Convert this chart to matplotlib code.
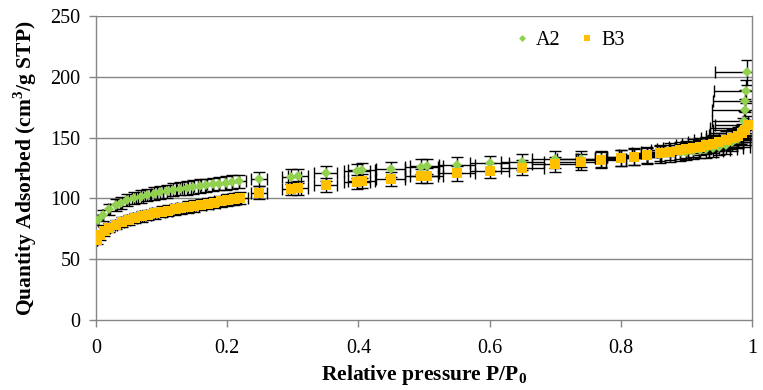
import numpy as np
import matplotlib
matplotlib.use("Agg")
import matplotlib.pyplot as plt

# isotherm data
a2_x = [0.003, 0.010, 0.020, 0.030, 0.038, 0.048, 0.058, 0.068, 0.078, 0.088,
        0.098, 0.108, 0.118, 0.128, 0.138, 0.148, 0.158, 0.168, 0.178, 0.188,
        0.198, 0.208, 0.218,
        0.248, 0.298, 0.308, 0.350, 0.398, 0.405, 0.449, 0.496, 0.504, 0.550,
        0.600, 0.650, 0.700, 0.740, 0.770, 0.800,
        0.820, 0.840, 0.860, 0.875, 0.890, 0.900, 0.910, 0.920, 0.930, 0.940,
        0.950, 0.960, 0.970, 0.978, 0.983, 0.986, 0.988, 0.989, 0.990, 0.991,
        0.993]
a2_y = [82.0, 86.0, 91.0, 94.5, 96.5, 98.5, 100.0, 101.5, 102.8, 104.0,
        105.0, 106.0, 107.0, 107.8, 108.6, 109.4, 110.1, 110.8, 111.5, 112.1,
        112.7, 113.3, 113.9,
        116.0, 118.0, 118.5, 120.6, 122.5, 123.0, 124.0, 126.0, 126.3, 127.5,
        128.8, 130.2, 132.0, 132.4, 132.5, 133.3,
        134.0, 135.0, 136.2, 137.0, 137.8, 138.4, 139.1, 139.8, 140.6, 141.5,
        142.6, 144.0, 146.0, 148.5, 152.0, 158.0, 164.0, 172.7, 180.0, 188.0,
        203.7]

b3_x = [0.002, 0.006, 0.012, 0.020, 0.030, 0.040, 0.050, 0.060, 0.070, 0.080,
        0.090, 0.100, 0.110, 0.120, 0.130, 0.140, 0.150, 0.160, 0.170, 0.180,
        0.190, 0.200, 0.210, 0.220,
        0.248, 0.298, 0.308, 0.350, 0.398, 0.405, 0.449, 0.496, 0.504, 0.550,
        0.600, 0.650, 0.700, 0.740, 0.770, 0.800,
        0.820, 0.840, 0.860, 0.875, 0.890, 0.900, 0.910, 0.920, 0.930, 0.940,
        0.950, 0.960, 0.970, 0.978, 0.985, 0.990, 0.994]
b3_y = [66.0, 69.5, 73.0, 76.0, 78.5, 80.5, 82.2, 83.8, 85.2, 86.5,
        87.7, 88.9, 90.0, 91.0, 92.0, 93.0, 93.9, 94.8, 95.7, 96.6,
        97.5, 98.4, 99.3, 100.2,
        104.7, 108.0, 108.5, 111.0, 113.5, 114.0, 116.0, 118.4, 118.8, 120.6,
        122.8, 125.3, 128.0, 129.7, 131.6, 133.0,
        134.4, 135.7, 137.3, 138.4, 139.6, 140.5, 141.5, 142.5, 143.6, 144.8,
        146.2, 147.8, 149.7, 151.5, 153.8, 156.5, 160.0]

err_pct = 0.05  # 5 % error bars in both directions

plt.rcParams['font.family'] = ['Liberation Serif', 'DejaVu Serif']

fig = plt.figure(figsize=(7.63, 3.90), dpi=100)
ax = fig.add_axes([0.1258, 0.1795, 0.8598, 0.7795])

grey = '#868686'
for ys in range(50, 251, 50):
    ax.axhline(ys, color=grey, lw=1.0, zorder=0)

series = [(a2_x, a2_y, '#92D050', 'D', 5.5, 'A2'),
          (b3_x, b3_y, '#FFC000', 's', 6.5, 'B3')]
for xs, ys, col, mk, ms, lab in series:
    xs = np.array(xs)
    ys = np.array(ys)
    ax.errorbar(xs, ys, xerr=err_pct * xs, yerr=err_pct * ys, fmt='none',
                ecolor='black', elinewidth=1.0, capsize=4, capthick=1.0,
                zorder=2)
for xs, ys, col, mk, ms, lab in series:
    ax.plot(xs, ys, linestyle='none', marker=mk, color=col, ms=ms,
            markeredgewidth=0, label=lab, zorder=3)

ax.set_xlim(0, 1)
ax.set_ylim(0, 250)
ax.set_xticks([0, 0.2, 0.4, 0.6, 0.8, 1])
ax.set_xticklabels(['0', '0.2', '0.4', '0.6', '0.8', '1'])
ax.set_yticks(range(0, 251, 50))

ax.spines['top'].set_visible(False)
for s in ['left', 'bottom', 'right']:
    ax.spines[s].set_color(grey)
    ax.spines[s].set_linewidth(1.0)
ax.tick_params(axis='both', colors=grey, labelcolor='black', labelsize=14.5,
               length=5, width=1.0, direction='out')
ax.tick_params(axis='x', pad=9)
ax.tick_params(axis='y', pad=6)

ax.set_xlabel('Relative pressure P/P$_\\mathregular{0}$', fontsize=15.5,
              fontweight='bold', labelpad=3)
ax.set_ylabel('Quantity Adsorbed (cm$^\\mathregular{3}$/g STP)', fontsize=15.5,
              fontweight='bold', labelpad=8)

ax.legend(loc='center left', bbox_to_anchor=(0.628, 0.918), ncol=2,
          frameon=False, fontsize=14.5, markerscale=0.65, handlelength=0.6,
          handletextpad=0.4, columnspacing=1.0, borderaxespad=0)

fig.savefig('out.png', dpi=100)
